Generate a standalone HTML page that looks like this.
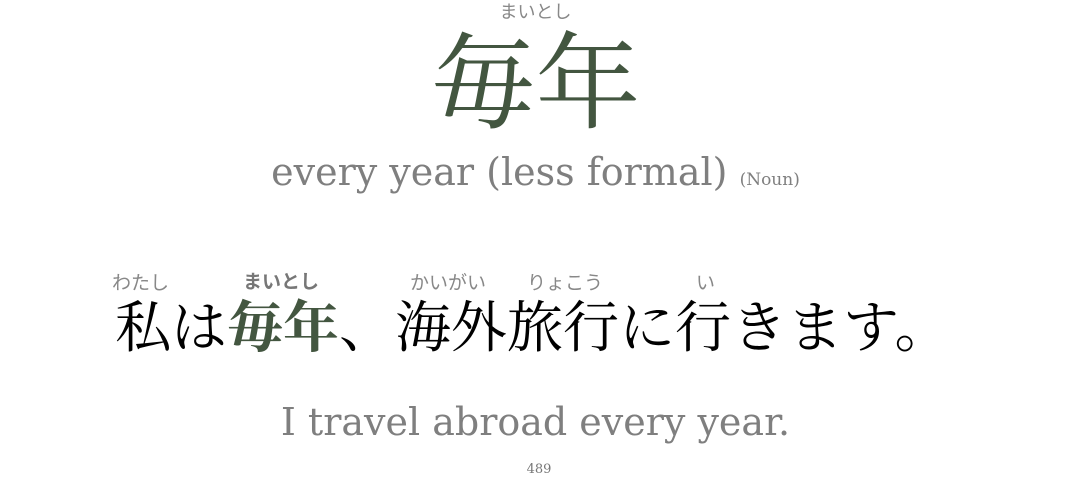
<!DOCTYPE html>
<html><head><meta charset="utf-8"><style>
body{margin:0;width:1071px;height:501px;background:#fff;position:relative;overflow:hidden;font-family:"DejaVu Serif","Noto Serif CJK JP",serif}
.a{position:absolute;white-space:nowrap;line-height:1}
.f{font-family:"DejaVu Sans","Noto Sans CJK JP",sans-serif;font-size:19px;color:#888}
.j{font-family:"Liberation Serif","Noto Serif CJK JP",serif}
</style></head><body>
<div class="a f" style="left:0;width:1071px;text-align:center;top:4px;font-size:18px;">まいとし</div>
<div class="a j" style="left:0;width:1071px;text-align:center;top:32px;font-size:105px;color:#435640;">毎年</div>
<div class="a" style="left:0;width:1071px;text-align:center;top:153px;font-size:38px;color:#7f7f7f;">every year (less formal) <span style="font-size:17px">(Noun)</span></div>

<div class="a f" style="left:112px;top:274px;">わたし</div>
<div class="a f" style="left:243px;top:273px;font-weight:bold;color:#777;">まいとし</div>
<div class="a f" style="left:410px;top:274px;">かいがい</div>
<div class="a f" style="left:527px;top:274px;">りょこう</div>
<div class="a f" style="left:696px;top:274px;">い</div>
<div class="a j" style="left:115px;top:301px;font-size:56px;color:#000;">私は<span style="color:#435640;font-weight:bold">毎年</span>、海外旅行に行きます。</div>
<div class="a" style="left:0;width:1071px;text-align:center;top:403px;font-size:38px;color:#7f7f7f;">I travel abroad every year.</div>
<div class="a" style="left:0;width:1078px;text-align:center;top:463px;font-size:13px;color:#777;">489</div>
</body></html>
